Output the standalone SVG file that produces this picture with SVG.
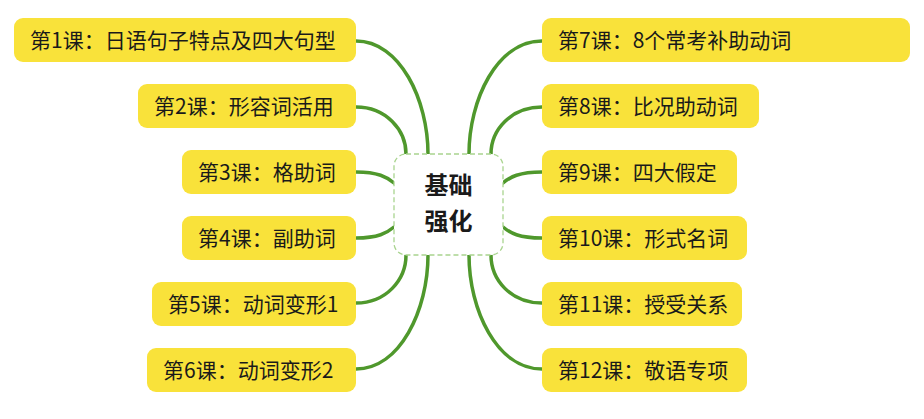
<svg xmlns="http://www.w3.org/2000/svg" width="924" height="419" viewBox="0 0 924 419">
<style>
.bg{fill:#ffffff}
.n rect{fill:#f9e23a}
.n text{font-family:"Noto Sans CJK SC","Noto Sans",sans-serif;font-size:21px;fill:#1a1a1a}
.c path{fill:none;stroke:#4f982c;stroke-width:3.5;stroke-linecap:round}
.root rect{fill:#ffffff;stroke:#a9d48f;stroke-width:1.3;stroke-dasharray:5 3}
.root text{font-family:"Noto Sans CJK SC","Noto Sans",sans-serif;font-size:24px;font-weight:bold;fill:#1a1a1a;text-anchor:middle}
</style>
<rect class="bg" x="0" y="0" width="924" height="419"/>
<g id="connectors" class="c">
<path d="M356,41 C400,41 428,100 428,154"/>
<path d="M356,107 C386,107 406,130 406,154"/>
<path d="M356,172 C378,172 387,177 394,183"/>
<path d="M356,238 C378,238 387,233 394,227"/>
<path d="M356,303 C386,303 406,280 406,255"/>
<path d="M356,369 C400,369 428,310 428,255"/>
<path d="M542,41 C497,41 469,100 469,154"/>
<path d="M542,107 C511,107 491,130 491,154"/>
<path d="M542,172 C519,172 510,177 503,183"/>
<path d="M542,238 C519,238 510,233 503,227"/>
<path d="M542,303 C511,303 491,280 491,255"/>
<path d="M542,369 C497,369 469,310 469,255"/>
</g>
<g id="root" class="root">
<rect x="394" y="154" width="109" height="101" rx="12"/>
<text x="448.5" y="193.5">基础</text>
<text x="448.5" y="230">强化</text>
</g>
<g id="n1" class="n"><rect x="14" y="18" width="342" height="44" rx="9"/><text x="30" y="47.5">第1课：日语句子特点及四大句型</text></g>
<g id="n2" class="n"><rect x="138" y="84" width="218" height="44" rx="9"/><text x="154" y="113.5">第2课：形容词活用</text></g>
<g id="n3" class="n"><rect x="182" y="150" width="174" height="44" rx="9"/><text x="198" y="179.5">第3课：格助词</text></g>
<g id="n4" class="n"><rect x="182" y="216" width="174" height="44" rx="9"/><text x="198" y="245.5">第4课：副助词</text></g>
<g id="n5" class="n"><rect x="152" y="282" width="204" height="44" rx="9"/><text x="168" y="311.5">第5课：动词变形1</text></g>
<g id="n6" class="n"><rect x="147" y="348" width="209" height="44" rx="9"/><text x="163" y="377.5">第6课：动词变形2</text></g>
<g id="n7" class="n"><rect x="542" y="18" width="368" height="44" rx="9"/><text x="558" y="47.5">第7课：8个常考补助动词</text></g>
<g id="n8" class="n"><rect x="542" y="84" width="217" height="44" rx="9"/><text x="558" y="113.5">第8课：比况助动词</text></g>
<g id="n9" class="n"><rect x="542" y="150" width="195" height="44" rx="9"/><text x="558" y="179.5">第9课：四大假定</text></g>
<g id="n10" class="n"><rect x="542" y="216" width="205" height="44" rx="9"/><text x="558" y="245.5">第10课：形式名词</text></g>
<g id="n11" class="n"><rect x="542" y="282" width="200" height="44" rx="9"/><text x="558" y="311.5">第11课：授受关系</text></g>
<g id="n12" class="n"><rect x="542" y="348" width="205" height="44" rx="9"/><text x="558" y="377.5">第12课：敬语专项</text></g>
</svg>
